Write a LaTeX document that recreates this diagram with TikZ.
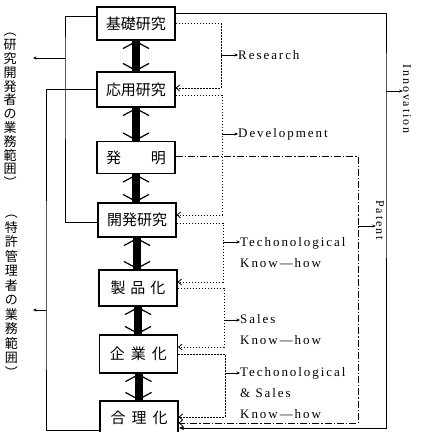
\documentclass[tikz,border=0pt]{standalone}
\usepackage{fontspec}
\setmainfont{Liberation Serif}
\newfontfamily\jp{Noto Sans CJK JP}
\newfontfamily\lat[LetterSpace=15]{Liberation Serif}
\usetikzlibrary{arrows.meta,calc}
\begin{document}
\begin{tikzpicture}[x=1pt,y=-1pt,
  box/.style={draw,line width=1.1pt,minimum width=78pt,minimum height=34pt,inner sep=0,font=\jp\fontsize{15}{15}\selectfont},
  dotline/.style={line width=0.8pt,dash pattern=on 1.6pt off 1.4pt},
  dashdot/.style={line width=1pt,dash pattern=on 7pt off 2pt on 1.2pt off 2pt},
  solidline/.style={line width=1pt},
  intip/.style={-{Straight Barb[length=3.5pt,width=6pt,line width=0.8pt]}},
  bigtip/.style={-{Latex[length=5pt,width=4.5pt]}},
  smallarrow/.style={line width=0.7pt,-{Stealth[length=3.5pt,width=3pt]}},
  bar/.style={line width=8pt},
  chev/.style={line width=1.2pt},
  lab/.style={font=\lat\fontsize{13}{21}\selectfont,anchor=west,inner sep=0,align=left},
  rlab/.style={font=\lat\fontsize{12}{12}\selectfont,inner sep=0,rotate=-90},
  vtext/.style={font=\jp\fontsize{13}{13.8}\selectfont,inner sep=0,align=center}
]
\useasboundingbox (0,0) rectangle (423,432);

% boxes
\node[box,minimum height=33pt] (kiso) at (136,23.5) {基礎研究};
\node[box,minimum height=35pt] (oyo) at (136,89.5) {応用研究};
\node[box,minimum height=32pt] (hatsu) at (136,157.5) {発\hspace{30pt}明};
\node[box] (kaih) at (137,220) {開発研究};
\node[box,minimum height=36pt] (seih) at (138,288) {製\hspace{5pt}品\hspace{5pt}化};
\node[box,minimum height=38pt] (kigy) at (138.5,354) {企\hspace{6pt}業\hspace{6pt}化};
\node[box] (gori) at (139,418) {合\hspace{6pt}理\hspace{6pt}化};

% thick double arrows
\foreach \a/\b in {kiso/oyo,oyo/hatsu,hatsu/kaih,kaih/seih,seih/kigy,kigy/gori}{
  \draw[bar] (\a.south) -- (\a.south |- \b.north);
  \draw[chev] ($(\a.south)+(-13,8)$) -- ($(\a.south)+(0,1)$) -- ($(\a.south)+(13,8)$);
  \draw[chev] ($(\a.south |- \b.north)+(-13,-8)$) -- ($(\a.south |- \b.north)+(0,-1)$) -- ($(\a.south |- \b.north)+(13,-8)$);
}

% right dotted brackets
\coordinate (r1) at (221,55);
\draw[dotline,intip] (kiso.east) -| (r1) |- ($(oyo.east)+(0,-1.5)$);
\node[lab] (res) at (238,55) {Research};
\draw[smallarrow] (r1) -- (res.west);

\coordinate (r2) at (222,134);
\draw[dotline,intip] ($(oyo.east)+(0,5.5)$) -| (r2) |- ($(kaih.east)+(0,-5)$);
\node[lab] (dev) at (238,134) {Development};
\draw[smallarrow] (r2) -- (dev.west);

\coordinate (r3) at (223,242);
\draw[dotline,intip] ($(kaih.east)+(0,3)$) -| (r3) |- ($(seih.east)+(0,-6)$);
\node[lab] (tk) at (240,252.5) {Techonological\\Know—how};
\draw[smallarrow] (r3) -- (r3 -| tk.west);

\coordinate (r4) at (224,320);
\draw[dotline,intip] (seih.east) -| (r4) |- ($(kigy.east)+(0,-7)$);
\node[lab] (sk) at (240,330) {Sales\\Know—how};
\draw[smallarrow] (r4) -- (r4 -| sk.west);

\coordinate (r5) at (225,373);
\draw[dotline,intip] (kigy.east) -| (r5) |- ($(gori.east)+(0,-1)$);
\node[lab] (tsk) at (240,393.5) {Techonological\\\& Sales\\Know—how};
\draw[smallarrow] (r5) -- (r5 -| tsk.west);

% patent (dash-dot)
\coordinate (pd) at (358,226);
\draw[dashdot,intip] ($(hatsu.east)+(0,-1.5)$) -| (pd) |- ($(gori.east)+(0,5)$);
\node[rlab] (pat) at (380,220) {Patent};
\draw[smallarrow] (pd) -- (pd -| pat.south);

% innovation (solid)
\coordinate (iv) at (386,91);
\draw[solidline,bigtip] ($(kiso.north east)+(0,7)$) -| (iv) |- ($(gori.east)+(0,10)$);
\node[rlab] (inn) at (407,99) {Innovation};
\draw[smallarrow] (iv) -- (iv -| inn.south);

% left brackets
\coordinate (l1) at (65,58);
\coordinate (a1) at (33,58);
\draw[solidline] ($(kiso.west)+(0,-7.5)$) -| (l1) |- ($(kaih.west)+(0,2)$);
\draw[smallarrow] (l1) -- (a1);
\node[vtext] (v1) at (10,110.5) {︵\\研\\究\\開\\発\\者\\の\\業\\務\\範\\囲\\︶};

\coordinate (l2) at (46,310);
\coordinate (a2) at (33,310);
\draw[solidline] ($(oyo.west)+(0,-0.5)$) -| (l2) |- ($(gori.west)+(0,12)$);
\draw[smallarrow] (l2) -- (a2);
\node[vtext,font=\jp\fontsize{13}{14.5}\selectfont] (v2) at (11.5,296.5) {︵\\特\\許\\管\\理\\者\\の\\業\\務\\範\\囲\\︶};
\end{tikzpicture}
\end{document}
